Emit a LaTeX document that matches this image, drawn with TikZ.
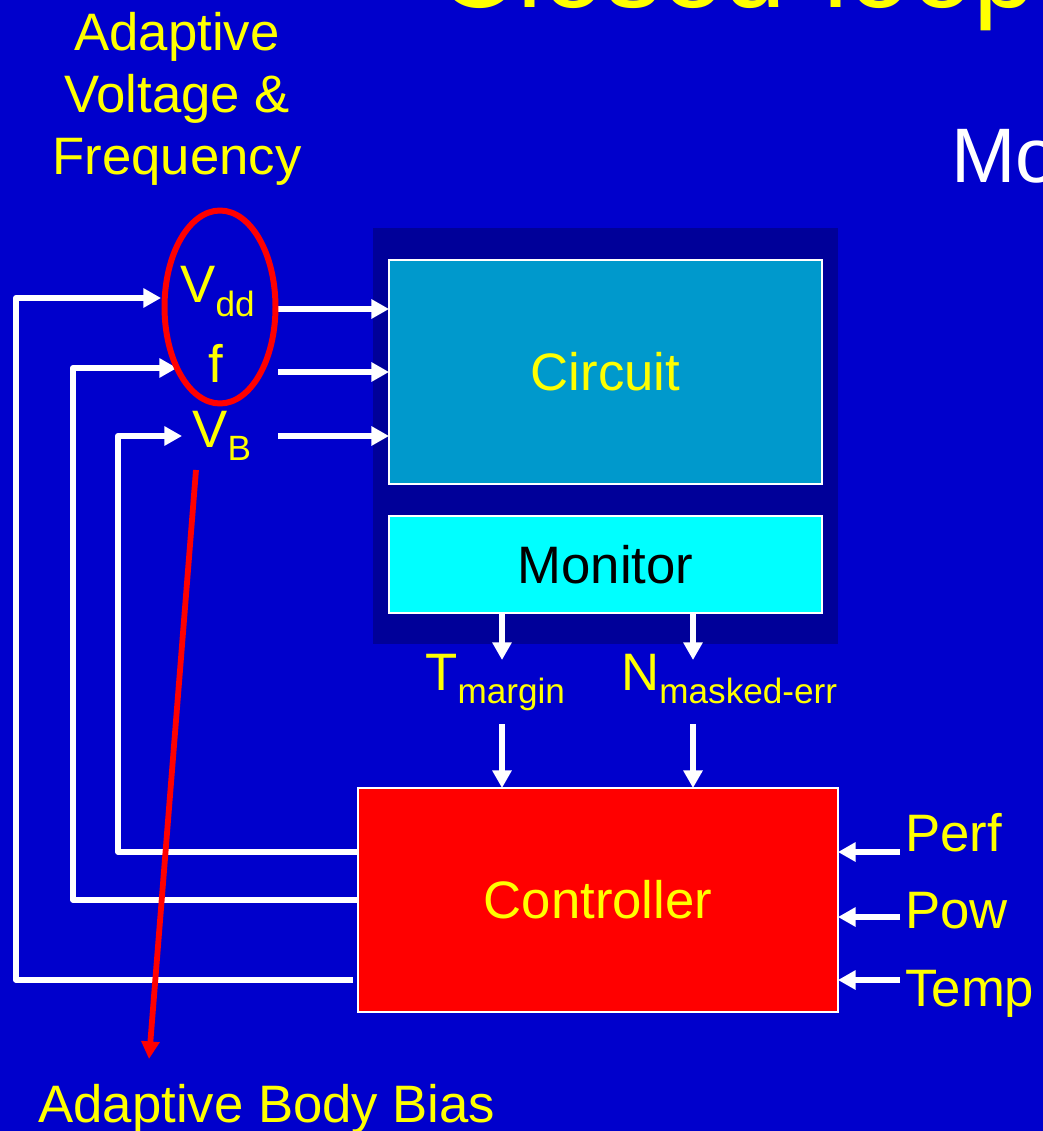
\documentclass[tikz,border=0pt]{standalone}
\usepackage{fontspec}
\setmainfont{Liberation Sans}
\usetikzlibrary{arrows.meta, positioning, calc, shapes.geometric}
\definecolor{slideblue}{RGB}{0, 0, 204}
\definecolor{framenavy}{RGB}{0, 0, 153}
\definecolor{circuitteal}{RGB}{0, 153, 204}
\definecolor{monitorcyan}{RGB}{0, 255, 255}
\definecolor{labelyellow}{RGB}{255, 255, 0}
\newcommand{\lowidx}[1]{\raisebox{-7.5pt}{\fontsize{20}{20}\selectfont #1}}

\begin{document}
\begin{tikzpicture}[x=0.02cm, y=-0.02cm,
        block/.style={draw=white, line width=0.8pt, minimum width=8.66cm, inner sep=0pt,
                      outer sep=0pt, font=\fontsize{30}{36}\selectfont},
        txt/.style={text=labelyellow, inner sep=0pt, font=\fontsize{30}{36}\selectfont},
        arrow/.style={-{Triangle[length=10pt, width=10.5pt]}, line width=3.3pt, white, line join=round},
        biasarrow/.style={-{Triangle[length=10pt, width=10pt]}, line width=3.3pt, red},
    ]
        \useasboundingbox[fill=slideblue] (0,0) rectangle (1043,1131);

        % title line and side text, cut by the slide edge
        \node[txt, anchor=base west, font=\fontsize{64}{70}\selectfont] (title) at (436,8) {Closed-loop};
        \node[txt, anchor=base west, text=white, font=\fontsize{44}{50}\selectfont] (mo) at (951,183) {Mo};

        % chip with circuit and monitor
        \node[fill=framenavy, minimum width=9.3cm, minimum height=8.34cm, inner sep=0pt, outer sep=0pt] (frame) at (605.5,436) {};
        \node[block, fill=circuitteal, minimum height=4.48cm, text=labelyellow] (circuit) at (605.5,372) {Circuit};
        \node[block, fill=monitorcyan, minimum height=1.94cm, text=black] (monitor) [below=0.64cm of circuit] {Monitor};
        \node[block, fill=red, minimum width=9.6cm, minimum height=4.48cm, text=labelyellow] (ctrl) at (598,900) {Controller};

        % knobs
        \node[txt, anchor=base west] (vdd)  at (180,303) {V\lowidx{dd}};
        \node[txt, anchor=base]      (freq) at (216,382) {f};
        \node[txt, anchor=base west] (vb)   at (192,447) {V\lowidx{B}};
        \node[txt, align=center, anchor=base, font=\fontsize{30}{35.5}\selectfont] (avf) at (177,175) {Adaptive\\Voltage \&\\Frequency};
        \node[txt, anchor=base west] (abb) at (38,1122) {Adaptive Body Bias};

        \foreach \y/\n in {309/vdd, 372/freq, 436/vb} {
            \coordinate (\n out) at (278,\y);
            \draw[arrow] (\n out) -- (\n out -| circuit.west);
        }

        % monitor outputs
        \node[txt, anchor=base west] (tmargin) at (425,690) {T\lowidx{margin}};
        \node[txt, anchor=base west] (nerr)    at (621,690) {N\lowidx{masked-err}};
        \foreach \x/\n in {502/tmargin, 693/nerr} {
            \coordinate (\n a) at (\x,660);
            \coordinate (\n b) at (\x,724);
            \draw[arrow] (\x,0 |- monitor.south) -- (\n a);
            \draw[arrow] (\n b) -- (\x,0 |- ctrl.north);
        }

        % goals into the controller
        \foreach \y/\b/\n/\t in {852/851/perf/Perf, 917/928/pow/Pow, 980/1006/temp/Temp} {
            \node[txt, anchor=base west] (\n) at (905,\b) {\t};
            \coordinate (\n in) at (900,\y);
            \draw[arrow] (\n in) -- (\n in -| ctrl.east);
        }

        % feedback loops
        \coordinate (vb fb)   at (182,436);
        \coordinate (freq fb) at (177,368);
        \coordinate (vdd fb)  at (161,298);
        \coordinate (vdd back) at (353,980);
        \draw[arrow] (ctrl.west |- 0,852) -| (118,436) -- (vb fb);
        \draw[arrow] (ctrl.west |- 0,900) -| (73,368) -- (freq fb);
        \draw[arrow] (vdd back) -| (16,298) -- (vdd fb);

        \node[draw=red, line width=3.4pt, ellipse, minimum width=2.22cm, minimum height=3.86cm, inner sep=0pt] (ring) at (220,307) {};

        \coordinate (bias start) at (196,470);
        \coordinate (bias tip)   at (149,1059);
        \draw[biasarrow] (bias start) -- (bias tip);
    \end{tikzpicture}
\end{document}
